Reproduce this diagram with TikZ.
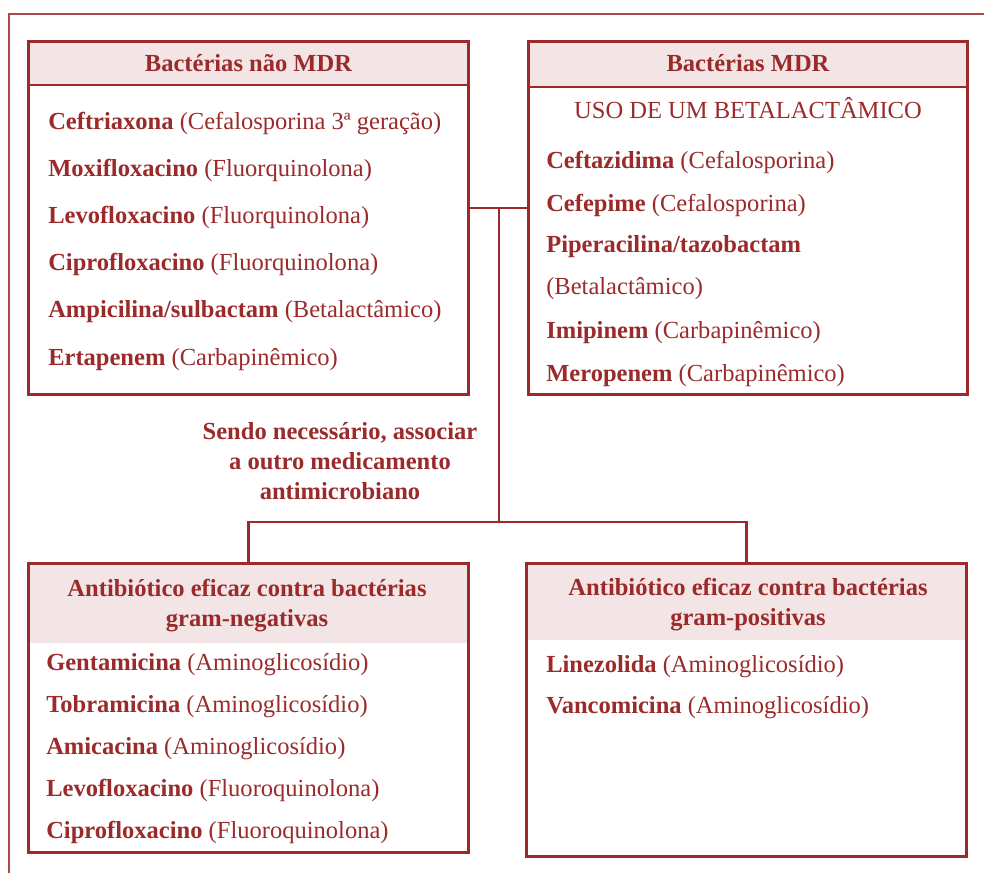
\documentclass[tikz,border=0pt]{standalone}
\usepackage{fontspec}
\setmainfont{Liberation Serif}
\usetikzlibrary{calc}
\definecolor{mdrred}{RGB}{155,42,42}
\definecolor{mdrpink}{RGB}{243,229,229}

\begin{document}
\begin{tikzpicture}[x=0.75pt,y=-0.75pt,
    box/.style n args={2}{draw=mdrred,line width=2.2pt,minimum width=#1*0.75pt,minimum height=#2*0.75pt,inner sep=0pt},
    item/.style={anchor=base west,inner sep=0pt,text=mdrred,font=\fontsize{18.4}{22}\selectfont},
    head/.style={inner sep=0pt,text=mdrred,align=center,font=\fontsize{18.4}{22.5}\selectfont\bfseries},
    link/.style={draw=mdrred,line width=2.2pt}]
  \useasboundingbox (0,0) rectangle (984,873);
  \clip (0,0) rectangle (984,873);
  \draw[mdrred!85,line width=1.4pt] (9,14) rectangle (1000,900);

  \node[box={440}{353}] (nmdr) at (248.5,218) {};
  \node[box={439}{353}] (mdr) at (748,218) {};
  \node[box={440}{289}] (gneg) at (248.5,708) {};
  \node[box={440}{293}] (gpos) at (746.5,710) {};

  \fill[mdrpink] ($(nmdr.north west)+(3,3)$) rectangle ($(nmdr.north east)+(-3,45)$);
  \fill[mdrpink] ($(mdr.north west)+(3,3)$) rectangle ($(mdr.north east)+(-3,47)$);
  \fill[mdrpink] ($(gneg.north west)+(3,3)$) rectangle ($(gneg.north east)+(-3,81)$);
  \fill[mdrpink] ($(gpos.north west)+(3,3)$) rectangle ($(gpos.north east)+(-3,78)$);
  \draw[link] ($(nmdr.north west)+(0,45)$) -- ($(nmdr.north east)+(0,45)$);
  \draw[link] ($(mdr.north west)+(0,47)$) -- ($(mdr.north east)+(0,47)$);

  \node[head,anchor=base] (tnmdr) at (248.5,72) {Bactérias não MDR};
  \node[head,anchor=base] (tmdr) at (748,72) {Bactérias MDR};
  \node[head] (tgneg) at (247,606) {Antibiótico eficaz contra bactérias\\gram-negativas};
  \node[head] (tgpos) at (748,605) {Antibiótico eficaz contra bactérias\\gram-positivas};

  \node[item] (nm1) at (48,130) {\textbf{Ceftriaxona} (Cefalosporina 3ª geração)};
  \node[item] (nm2) at (48,177) {\textbf{Moxifloxacino} (Fluorquinolona)};
  \node[item] (nm3) at (48,224) {\textbf{Levofloxacino} (Fluorquinolona)};
  \node[item] (nm4) at (48,271) {\textbf{Ciprofloxacino} (Fluorquinolona)};
  \node[item] (nm5) at (48,318) {\textbf{Ampicilina/sulbactam} (Betalactâmico)};
  \node[item] (nm6) at (48,365) {\textbf{Ertapenem} (Carbapinêmico)};

  \node[item,anchor=base] (m0) at (748,119) {USO DE UM BETALACTÂMICO};
  \node[item] (m1) at (546,169) {\textbf{Ceftazidima} (Cefalosporina)};
  \node[item] (m2) at (546,212) {\textbf{Cefepime} (Cefalosporina)};
  \node[item] (m3) at (546,253) {\textbf{Piperacilina/tazobactam}};
  \node[item] (m4) at (546,295) {(Betalactâmico)};
  \node[item] (m5) at (546,338) {\textbf{Imipinem} (Carbapinêmico)};
  \node[item] (m6) at (546,381) {\textbf{Meropenem} (Carbapinêmico)};

  \node[item] (gn1) at (46,670) {\textbf{Gentamicina} (Aminoglicosídio)};
  \node[item] (gn2) at (46,712) {\textbf{Tobramicina} (Aminoglicosídio)};
  \node[item] (gn3) at (46,754) {\textbf{Amicacina} (Aminoglicosídio)};
  \node[item] (gn4) at (46,796) {\textbf{Levofloxacino} (Fluoroquinolona)};
  \node[item] (gn5) at (46,838) {\textbf{Ciprofloxacino} (Fluoroquinolona)};

  \node[item] (gp1) at (546,672) {\textbf{Linezolida} (Aminoglicosídio)};
  \node[item] (gp2) at (546,713) {\textbf{Vancomicina} (Aminoglicosídio)};

  \node[head] (note) at (340,461) {Sendo necessário, associar\\a outro medicamento\\antimicrobiano};

  \coordinate (jt) at (499,208);
  \coordinate (jb) at (499,522);
  \draw[link] (nmdr.east |- jt) -- (mdr.west |- jt);
  \draw[link] (jt) -- (jb);
  \draw[link] (gneg.north) |- (jb) -| (gpos.north);
\end{tikzpicture}
\end{document}
